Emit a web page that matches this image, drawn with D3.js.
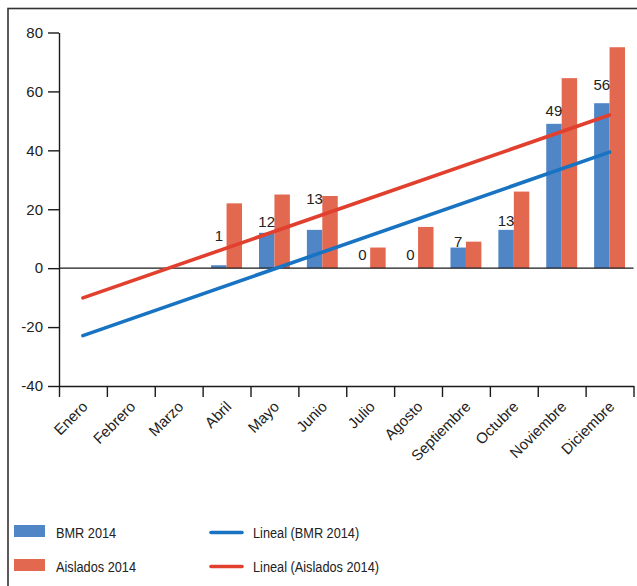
<!DOCTYPE html>
<html>
<head>
<meta charset="utf-8">
<script src="https://cdn.jsdelivr.net/npm/d3@7"></script>
<style>
  body { margin: 0; background: #fff; }
  svg { display: block; font-family: "Liberation Sans", Arial, Helvetica, sans-serif; }
  .axis text { font-size: 15px; fill: #222; }
  .axis path, .axis line { stroke: #1a1a1a; stroke-width: 1.4; }
  .vlabel { font-size: 15px; fill: #222; }
  .legend text { font-size: 15px; fill: #222; }
</style>
</head>
<body>
<svg id="svg" width="637" height="586"></svg>
<script>
var months = ["Enero", "Febrero", "Marzo", "Abril", "Mayo", "Junio", "Julio",
    "Agosto", "Septiembre", "Octubre", "Noviembre", "Diciembre"];
var bmr = [null, null, null, 1, 12, 13, 0, 0, 7, 13, 49, 56];
var aislados = [null, null, null, 22, 25, 24.5, 7, 14, 9, 26, 64.5, 75];
// trend lines, value at Enero and at Diciembre
var bmrTrend = [-22.9, 39.4];
var aisTrend = [-10.1, 52.0];
var yTicks = [-40, -20, 0, 20, 40, 60, 80];
// pixel lift of each value label above its bar (labels were placed by hand)
var labelLift = [0, 0, 0, 24, 6, 26, 8, 8, 1, 4, 8, 13];

var BLUE = "#5086c6", RED = "#e2684f";
var LBLUE = "#1873c2", LRED = "#e1402e";

var svg = d3.select("#svg");

// frame
svg.append("rect")
    .attr("x", 8).attr("y", 8.5)
    .attr("width", 700).attr("height", 700)
    .attr("fill", "none")
    .attr("stroke", "#333")
    .attr("stroke-width", 1.6);

var left = 59, right = 633.5;

var x = d3.scaleBand().domain(months).range([left, right]);
var xs = d3.scaleBand().domain(["bmr", "ais"]).range([0, x.bandwidth()])
    .paddingInner(0).paddingOuter(0.55);
var xEdge = d3.scaleLinear().domain([0, months.length]).range([left, right]);
var y = d3.scaleLinear().domain([-40, 80]).range([386, 32.5]);

// bars
var rows = months.map((m, i) => ({ m: m, i: i, bmr: bmr[i], ais: aislados[i] }));

svg.append("g").selectAll("rect.bmr")
    .data(rows.filter(d => d.bmr !== null))
    .enter().append("rect")
    .attr("x", d => x(d.m) + xs("bmr"))
    .attr("width", xs.bandwidth())
    .attr("y", d => y(d.bmr))
    .attr("height", d => y(0) - y(d.bmr))
    .attr("fill", BLUE);

svg.append("g").selectAll("rect.ais")
    .data(rows.filter(d => d.ais !== null))
    .enter().append("rect")
    .attr("x", d => x(d.m) + xs("ais"))
    .attr("width", xs.bandwidth())
    .attr("y", d => y(d.ais))
    .attr("height", d => y(0) - y(d.ais))
    .attr("fill", RED);

// zero line
svg.append("line")
    .attr("x1", left).attr("x2", right)
    .attr("y1", y(0)).attr("y2", y(0))
    .attr("stroke", "#1a1a1a").attr("stroke-width", 1.4);

// axes
svg.append("g")
    .attr("class", "axis")
    .attr("transform", "translate(" + left + ",0)")
    .call(d3.axisLeft(y).tickValues(yTicks).tickSize(11).tickSizeOuter(0).tickPadding(5)
        .tickFormat(d => String(d)));

svg.append("g")
    .attr("class", "axis")
    .attr("transform", "translate(0," + y(-40) + ")")
    .call(d3.axisBottom(xEdge).tickValues(d3.range(0, months.length + 1))
        .tickFormat("").tickSize(11).tickSizeOuter(0));

svg.append("g")
    .attr("class", "axis")
    .selectAll("text")
    .data(months)
    .enter().append("text")
    .attr("text-anchor", "end")
    .attr("transform", d => "translate(" + (x(d) + x.bandwidth() / 2 + 2) + "," + 404 + ") rotate(-45)")
    .attr("dy", "0.35em")
    .text(d => d);

// trend lines
var ends = [months[0], months[months.length - 1]];
var line = d3.line()
    .x(d => x(d[0]) + x.bandwidth() / 2)
    .y(d => y(d[1]));

[[bmrTrend, LBLUE], [aisTrend, LRED]].forEach(t => {
    svg.append("path")
        .datum(ends.map((m, k) => [m, t[0][k]]))
        .attr("d", line)
        .attr("fill", "none")
        .attr("stroke", t[1])
        .attr("stroke-width", 3.6)
        .attr("stroke-linecap", "round");
});

// value labels on BMR bars
svg.append("g").selectAll("text")
    .data(rows.filter(d => d.bmr !== null))
    .enter().append("text")
    .attr("class", "vlabel")
    .attr("text-anchor", "middle")
    .attr("x", d => x(d.m) + xs("bmr") + xs.bandwidth() / 2)
    .attr("y", d => y(d.bmr) - labelLift[d.i])
    .text(d => d.bmr);

// legend
var legend = svg.append("g").attr("class", "legend");
var legendItems = [
    { name: "BMR 2014", color: BLUE, type: "bar", col: 0, row: 0 },
    { name: "Aislados 2014", color: RED, type: "bar", col: 0, row: 1 },
    { name: "Lineal (BMR 2014)", color: LBLUE, type: "line", col: 1, row: 0 },
    { name: "Lineal (Aislados 2014)", color: LRED, type: "line", col: 1, row: 1 }
];

legendItems.forEach(d => {
    var gx = 14 + d.col * 197, gy = 531 + d.row * 34;
    if (d.type === "bar") {
        legend.append("rect")
            .attr("x", gx).attr("y", gy - 6)
            .attr("width", 31).attr("height", 12)
            .attr("fill", d.color);
    } else {
        legend.append("line")
            .attr("x1", gx).attr("x2", gx + 31)
            .attr("y1", gy + 1.5).attr("y2", gy + 1.5)
            .attr("stroke", d.color).attr("stroke-width", 3.6)
            .attr("stroke-linecap", "round");
    }
    // the legend type is narrower than the axis type
    legend.append("text")
        .attr("transform", "translate(" + (gx + 42) + "," + (gy + 7) + ") scale(0.85,1)")
        .text(d.name);
});
</script>
</body>
</html>
